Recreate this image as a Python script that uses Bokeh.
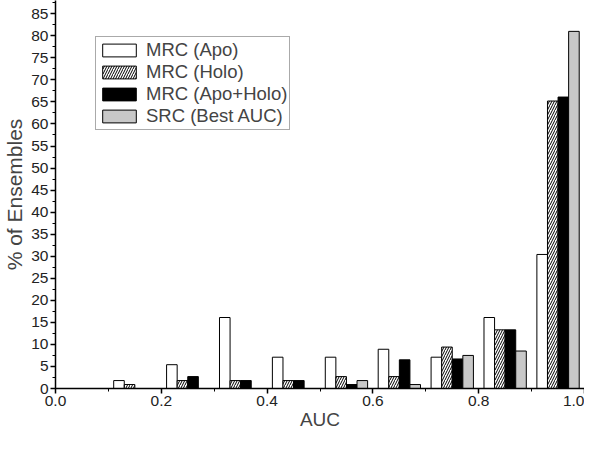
from bokeh.plotting import figure
from bokeh.models import ColumnDataSource, SingleIntervalTicker, NumeralTickFormatter, Legend, LegendItem, Range1d
from bokeh.transform import dodge
from bokeh.embed import file_html
from bokeh.resources import INLINE

# Data (bin centers of AUC bins, percent of ensembles)
bins = [0.15, 0.25, 0.35, 0.45, 0.55, 0.65, 0.75, 0.85, 0.95]
mrc_apo = [1.8, 5.4, 16.1, 7.1, 7.1, 8.9, 7.1, 16.1, 30.4]
mrc_holo = [0.9, 1.8, 1.8, 1.8, 2.7, 2.7, 9.4, 13.3, 65.2]
mrc_apo_holo = [0.0, 2.7, 1.8, 1.8, 0.9, 6.5, 6.7, 13.3, 66.1]
src_best = [0.0, 0.0, 0.0, 0.0, 1.8, 0.9, 7.5, 8.5, 81.0]
series_labels = ["MRC (Apo)", "MRC (Holo)", "MRC (Apo+Holo)", "SRC (Best AUC)"]

src = ColumnDataSource(dict(x=bins, a=mrc_apo, h=mrc_holo, ah=mrc_apo_holo, s=src_best))

FONT = "Liberation Sans"

p = figure(width=584, height=434, output_backend="svg", toolbar_location=None,
           x_range=Range1d(0, 1.0), y_range=Range1d(0, 88),
           min_border_left=48, min_border_right=0, min_border_top=0, min_border_bottom=46)
p.outline_line_color = None
p.xgrid.visible = False
p.ygrid.visible = False

w = 0.02
r1 = p.vbar(x=dodge("x", -0.03, range=p.x_range), top="a", width=w, source=src,
            fill_color="white", line_color="black", line_width=1)
r2 = p.vbar(x=dodge("x", -0.01, range=p.x_range), top="h", width=w, source=src,
            fill_color="white", line_color="black", line_width=1,
            hatch_pattern="/", hatch_color="black", hatch_scale=5, hatch_weight=1)
r3 = p.vbar(x=dodge("x", 0.01, range=p.x_range), top="ah", width=w, source=src,
            fill_color="black", line_color="black", line_width=1)
r4 = p.vbar(x=dodge("x", 0.03, range=p.x_range), top="s", width=w, source=src,
            fill_color="#c8c8c8", line_color="black", line_width=1)

legend = Legend(items=[LegendItem(label=series_labels[i], renderers=[r]) for i, r in enumerate([r1, r2, r3, r4])],
                location=(40, 258), glyph_width=42, glyph_height=16, spacing=0,
                padding=2, margin=0, label_text_font=FONT, label_text_font_size="18.5px",
                label_standoff=6, border_line_color="#555555", border_line_width=1,
                label_height=16)
p.add_layout(legend)

for ax in (p.xaxis[0], p.yaxis[0]):
    ax.axis_line_width = 1.5
    ax.major_tick_line_width = 1.5
    ax.minor_tick_line_width = 1
    ax.major_tick_out = 5
    ax.major_tick_in = 0
    ax.minor_tick_out = 3
    ax.minor_tick_in = 0
    ax.major_label_text_font = FONT
    ax.major_label_text_font_size = "15.5px"
    ax.major_label_text_color = "#222222"
    ax.major_label_standoff = 2
    ax.axis_label_text_font = FONT
    ax.axis_label_text_font_style = "normal"
    ax.axis_label_standoff = 0

p.xaxis.axis_label_text_font_size = "19px"
p.yaxis.axis_label_text_font_size = "21px"
p.yaxis.axis_label_standoff = 2
p.xaxis.ticker = SingleIntervalTicker(interval=0.2, num_minor_ticks=2)
p.xaxis.formatter = NumeralTickFormatter(format="0.0")
p.xaxis.axis_label = "AUC"
p.yaxis.ticker = SingleIntervalTicker(interval=5, num_minor_ticks=2)
p.yaxis.axis_label = "% of Ensembles"

open("out.html", "w").write(file_html(p, INLINE))
